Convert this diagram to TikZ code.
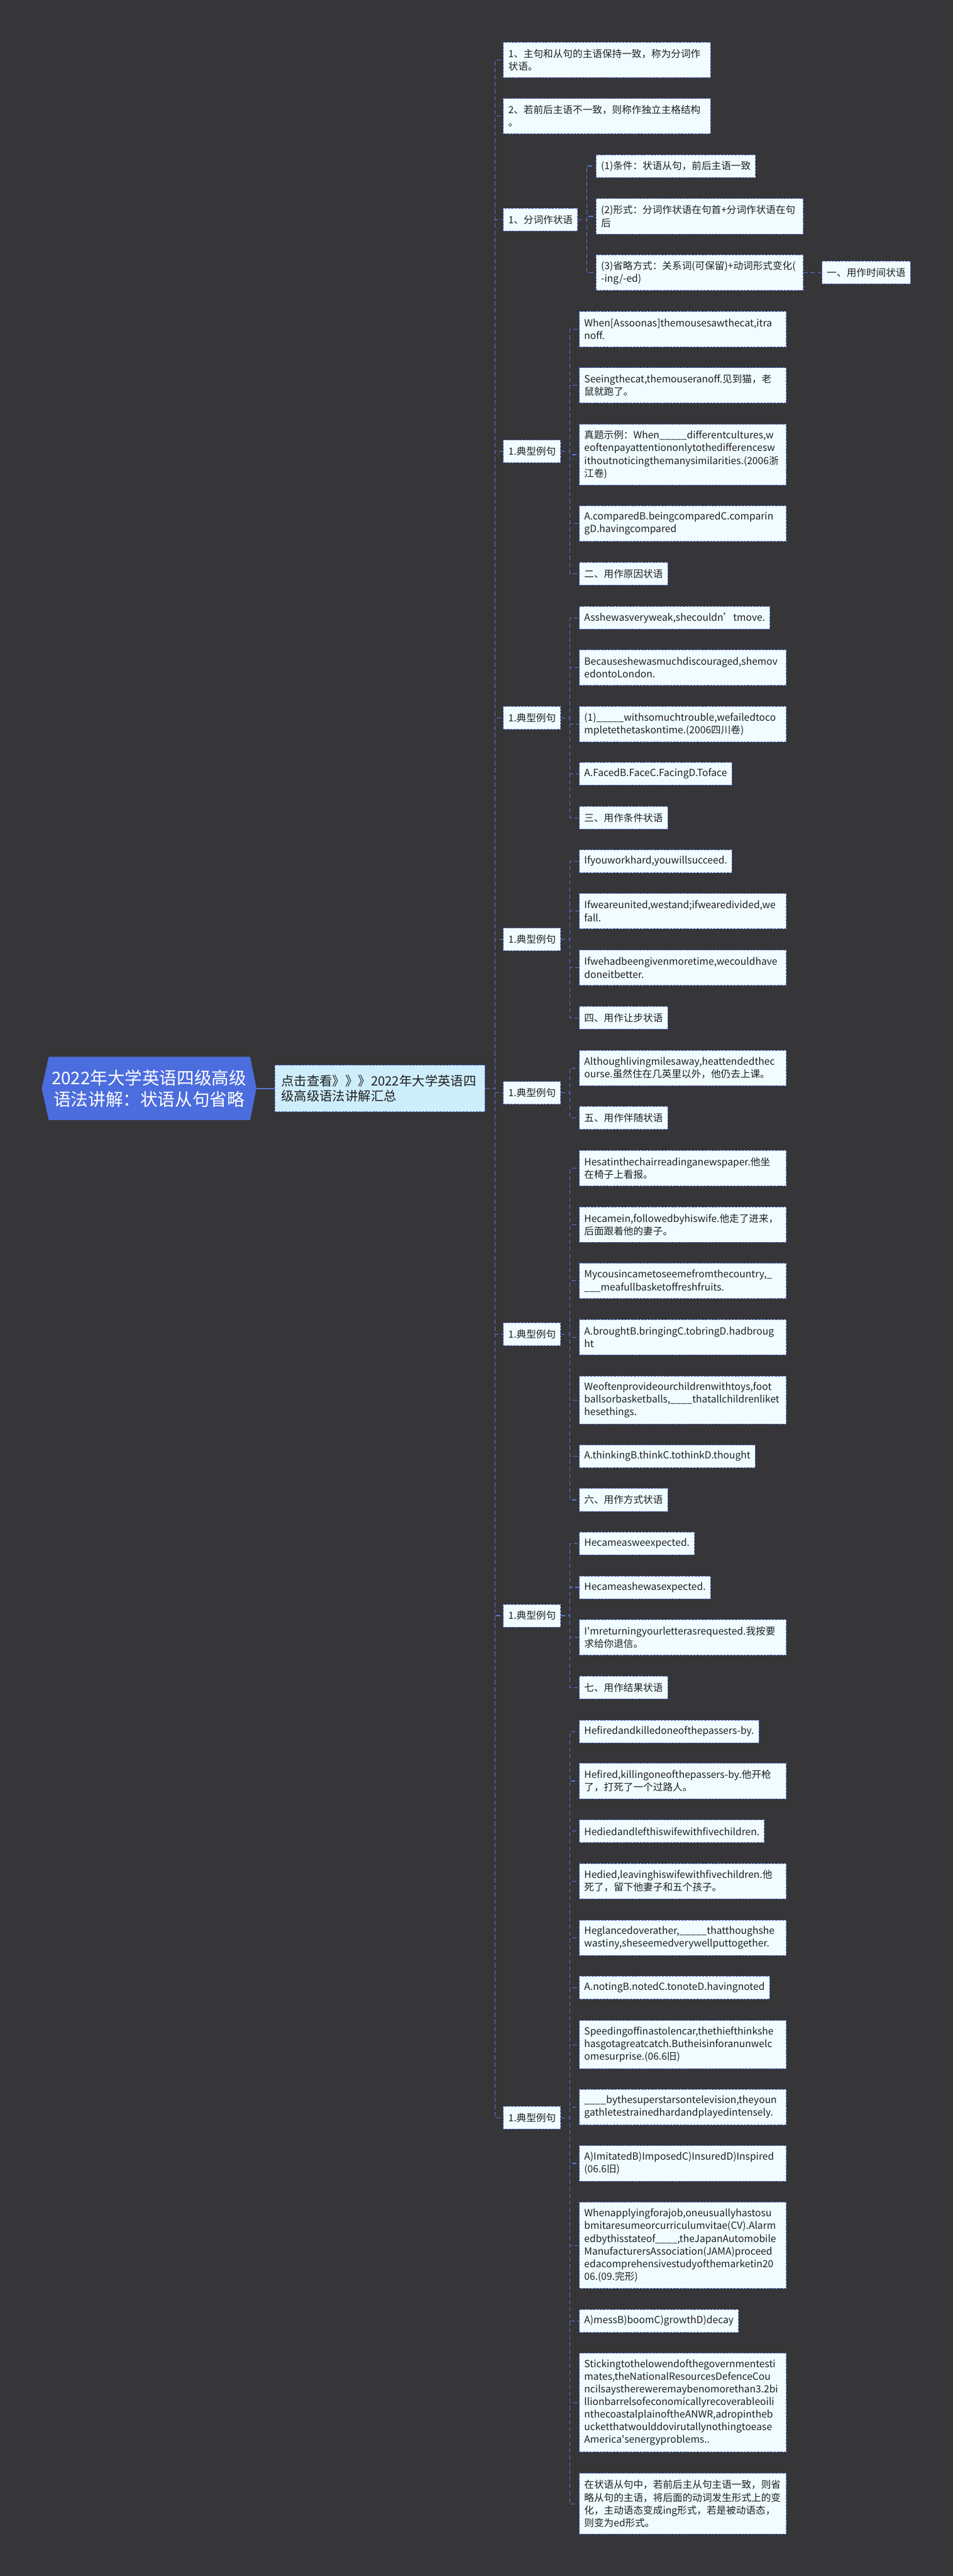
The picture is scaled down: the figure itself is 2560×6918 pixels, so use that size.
\documentclass[tikz,border=0pt]{standalone}
\usepackage{fontspec}
\setmainfont{Noto Sans CJK SC}
\usepackage{tikz}
\usetikzlibrary{positioning}
\definecolor{bg}{RGB}{54,53,56}
\definecolor{leaffill}{RGB}{240,252,255}
\definecolor{sumfill}{RGB}{206,238,251}
\definecolor{rootblue}{RGB}{76,109,222}
\definecolor{linkblue}{RGB}{88,118,214}
\definecolor{ink}{RGB}{30,30,30}
\newcommand\leaffont{\fontsize{13.2pt}{17pt}\selectfont}
\newcommand\sumfont{\fontsize{17.2pt}{20pt}\selectfont}
\newcommand\rootfont{\fontsize{23.3pt}{28.5pt}\selectfont}
\tikzset{
  leaf/.style={draw=linkblue, fill=leaffill, text=ink, font=\leaffont, line width=0.8pt,
    dash pattern=on 3pt off 1.5pt, inner xsep=6.5pt, inner ysep=0pt, anchor=west,
    align=left, minimum height=30.5pt},
  wide/.style={text width=265pt},
  h2/.style={minimum height=47.5pt},
  h3/.style={minimum height=64.5pt},
  h4/.style={minimum height=81.5pt},
  h6/.style={minimum height=115.5pt},
  h7/.style={minimum height=132.5pt},
  link/.style={draw=linkblue, line width=1pt, dash pattern=on 6pt off 3.5pt},
}

\begin{document}
\begin{tikzpicture}[x=0.5pt,y=-0.5pt]
\fill[bg] (0,0) rectangle (2560,6918);
\useasboundingbox (0,0) rectangle (2560,6918);

% root and summary
\fill[rootblue] (112,2923) -- (131,2838) -- (672,2838) -- (689,2923) -- (672,3008) -- (131,3008) -- cycle;
\node[font=\rootfont, text=white, align=center, minimum width=288.5pt, minimum height=85pt, inner sep=0pt] (root) at (400.5,2923) {2022年大学英语四级高级\\语法讲解：状语从句省略};
\node[leaf, fill=sumfill, font=\sumfont, text width=265pt, inner xsep=8.5pt, minimum height=62.5pt] (sum) at (738,2923) {点击查看》》》2022年大学英语四\\级高级语法讲解汇总};
\draw[linkblue, line width=1.5pt] (root.east) -- (sum.west);

% second level
\node[leaf, wide, h2] (n1) at (1352,161) {1、主句和从句的主语保持一致，称为分词作\\状语。};
\node[leaf, wide, h2] (n2) at (1352,312) {2、若前后主语不一致，则称作独立主格结构\\。};
\node[leaf] (fc) at (1352,590) {1、分词作状语};
\node[leaf] (ex1) at (1352,1212) {1.典型例句};
\node[leaf] (ex2) at (1352,1928) {1.典型例句};
\node[leaf] (ex3) at (1352,2523) {1.典型例句};
\node[leaf] (ex4) at (1352,2935) {1.典型例句};
\node[leaf] (ex5) at (1352,3583) {1.典型例句};
\node[leaf] (ex6) at (1352,4339) {1.典型例句};
\node[leaf] (ex7) at (1352,5687) {1.典型例句};

% participle branch
\node[leaf] (fc1) at (1601,446) {(1)条件：状语从句，前后主语一致};
\node[leaf, wide, h2] (fc2) at (1601,581) {(2)形式：分词作状语在句首+分词作状语在句\\后};
\node[leaf, wide, h2] (fc3) at (1601,732) {(3)省略方式：关系词(可保留)+动词形式变化(\\-ing/-ed)};
\node[leaf] (t1) at (2208,732) {一、用作时间状语};

% examples 1
\node[leaf, wide, h2] (ex1a) at (1556,884) {When[Assoonas]themousesawthecat,itra\\noff.};
\node[leaf, wide, h2] (ex1b) at (1556,1035) {Seeingthecat,themouseranoff.见到猫，老\\鼠就跑了。};
\node[leaf, wide, h4] (ex1c) at (1556,1221) {真题示例：When\_\_\_\_\_differentcultures,w\\eoftenpayattentiononlytothedifferencesw\\ithoutnoticingthemanysimilarities.(2006浙\\江卷)};
\node[leaf, wide, h2] (ex1d) at (1556,1406) {A.comparedB.beingcomparedC.comparin\\gD.havingcompared};
\node[leaf] (ex1e) at (1556,1541) {二、用作原因状语};

% examples 2
\node[leaf] (ex2a) at (1556,1659) {Asshewasveryweak,shecouldn’tmove.};
\node[leaf, wide, h2] (ex2b) at (1556,1793) {Becauseshewasmuchdiscouraged,shemov\\edontoLondon.};
\node[leaf, wide, h2] (ex2c) at (1556,1945) {(1)\_\_\_\_\_withsomuchtrouble,wefailedtoco\\mpletethetaskontime.(2006四川卷)};
\node[leaf] (ex2d) at (1556,2078) {A.FacedB.FaceC.FacingD.Toface};
\node[leaf] (ex2e) at (1556,2196) {三、用作条件状语};

% examples 3
\node[leaf] (ex3a) at (1556,2313) {Ifyouworkhard,youwillsucceed.};
\node[leaf, wide, h2] (ex3b) at (1556,2447) {Ifweareunited,westand;ifwearedivided,we\\fall.};
\node[leaf, wide, h2] (ex3c) at (1556,2599) {Ifwehadbeengivenmoretime,wecouldhave\\doneitbetter.};
\node[leaf] (ex3d) at (1556,2733) {四、用作让步状语};

% examples 4
\node[leaf, wide, h2] (ex4a) at (1556,2868) {Althoughlivingmilesaway,heattendedthec\\ourse.虽然住在几英里以外，他仍去上课。};
\node[leaf] (ex4b) at (1556,3002) {五、用作伴随状语};

% examples 5
\node[leaf, wide, h2] (ex5a) at (1556,3137) {Hesatinthechairreadinganewspaper.他坐\\在椅子上看报。};
\node[leaf, wide, h2] (ex5b) at (1556,3289) {Hecamein,followedbyhiswife.他走了进来，\\后面跟着他的妻子。};
\node[leaf, wide, h2] (ex5c) at (1556,3440) {Mycousincametoseemefromthecountry,\_\\\_\_\_meafullbasketoffreshfruits.};
\node[leaf, wide, h2] (ex5d) at (1556,3591) {A.broughtB.bringingC.tobringD.hadbroug\\ht};
\node[leaf, wide, h3] (ex5e) at (1556,3760) {Weoftenprovideourchildrenwithtoys,foot\\ballsorbasketballs,\_\_\_\_thatallchildrenliket\\hesethings.};
\node[leaf] (ex5f) at (1556,3911) {A.thinkingB.thinkC.tothinkD.thought};
\node[leaf] (ex5g) at (1556,4028) {六、用作方式状语};

% examples 6
\node[leaf] (ex6a) at (1556,4145) {Hecameasweexpected.};
\node[leaf] (ex6b) at (1556,4263) {Hecameashewasexpected.};
\node[leaf, wide, h2] (ex6c) at (1556,4397) {I\textquotesingle mreturningyourletterasrequested.我按要\\求给你退信。};
\node[leaf] (ex6d) at (1556,4532) {七、用作结果状语};

% examples 7
\node[leaf] (ex7a) at (1556,4650) {Hefiredandkilledoneofthepassers-by.};
\node[leaf, wide, h2] (ex7b) at (1556,4783) {Hefired,killingoneofthepassers-by.他开枪\\了，打死了一个过路人。};
\node[leaf] (ex7c) at (1556,4918) {Hediedandlefthiswifewithfivechildren.};
\node[leaf, wide, h2] (ex7d) at (1556,5052) {Hedied,leavinghiswifewithfivechildren.他\\死了，留下他妻子和五个孩子。};
\node[leaf, wide, h2] (ex7e) at (1556,5204) {Heglancedoverather,\_\_\_\_\_thatthoughshe\\wastiny,sheseemedverywellputtogether.};
\node[leaf] (ex7f) at (1556,5338) {A.notingB.notedC.tonoteD.havingnoted};
\node[leaf, wide, h3] (ex7g) at (1556,5491) {Speedingoffinastolencar,thethiefthinkshe\\hasgotagreatcatch.Butheisinforanunwelc\\omesurprise.(06.6旧)};
\node[leaf, wide, h2] (ex7h) at (1556,5659) {\_\_\_\_bythesuperstarsontelevision,theyoun\\gathletestrainedhardandplayedintensely.};
\node[leaf, wide, h2] (ex7i) at (1556,5810) {A)ImitatedB)ImposedC)InsuredD)Inspired\\(06.6旧)};
\node[leaf, wide, h6] (ex7j) at (1556,6030) {Whenapplyingforajob,oneusuallyhastosu\\bmitaresumeorcurriculumvitae(CV).Alarm\\edbythisstateof\_\_\_\_,theJapanAutomobile\\ManufacturersAssociation(JAMA)proceed\\edacomprehensivestudyofthemarketin20\\06.(09.完形)};
\node[leaf] (ex7k) at (1556,6233) {A)messB)boomC)growthD)decay};
\node[leaf, wide, h7] (ex7l) at (1556,6452) {Stickingtothelowendofthegovernmentesti\\mates,theNationalResourcesDefenceCou\\ncilsaystherewere\-maybenomorethan3.2bi\\llionbarrelsofeconomicallyrecoverableoili\\nthecoastalplainoftheANWR,adropintheb\\ucketthatwoulddovirutallynothingtoease\\America\textquotesingle senergyproblems..};
\node[leaf, wide, h4] (ex7m) at (1556,6724) {在状语从句中，若前后主从句主语一致，则省\\略从句的主语，将后面的动词发生形式上的变\\化，主动语态变成ing形式，若是被动语态，\\则变为ed形式。};

% connectors
\foreach \c in {n1,n2,fc,ex1,ex2,ex3,ex4,ex5,ex6,ex7}
  \draw[link] (sum.east) -- ++(26,0) |- (\c.west);
\foreach \c in {fc1,fc2,fc3}
  \draw[link] (fc.east) -- ++(24,0) |- (\c.west);
\draw[link] (fc3.east) -- (t1.west);
\foreach \c in {ex1a,ex1b,ex1c,ex1d,ex1e}
  \draw[link] (ex1.east) -- ++(24,0) |- (\c.west);
\foreach \c in {ex2a,ex2b,ex2c,ex2d,ex2e}
  \draw[link] (ex2.east) -- ++(24,0) |- (\c.west);
\foreach \c in {ex3a,ex3b,ex3c,ex3d}
  \draw[link] (ex3.east) -- ++(24,0) |- (\c.west);
\foreach \c in {ex4a,ex4b}
  \draw[link] (ex4.east) -- ++(24,0) |- (\c.west);
\foreach \c in {ex5a,ex5b,ex5c,ex5d,ex5e,ex5f,ex5g}
  \draw[link] (ex5.east) -- ++(24,0) |- (\c.west);
\foreach \c in {ex6a,ex6b,ex6c,ex6d}
  \draw[link] (ex6.east) -- ++(24,0) |- (\c.west);
\foreach \c in {ex7a,ex7b,ex7c,ex7d,ex7e,ex7f,ex7g,ex7h,ex7i,ex7j,ex7k,ex7l,ex7m}
  \draw[link] (ex7.east) -- ++(24,0) |- (\c.west);
\end{tikzpicture}
\end{document}
